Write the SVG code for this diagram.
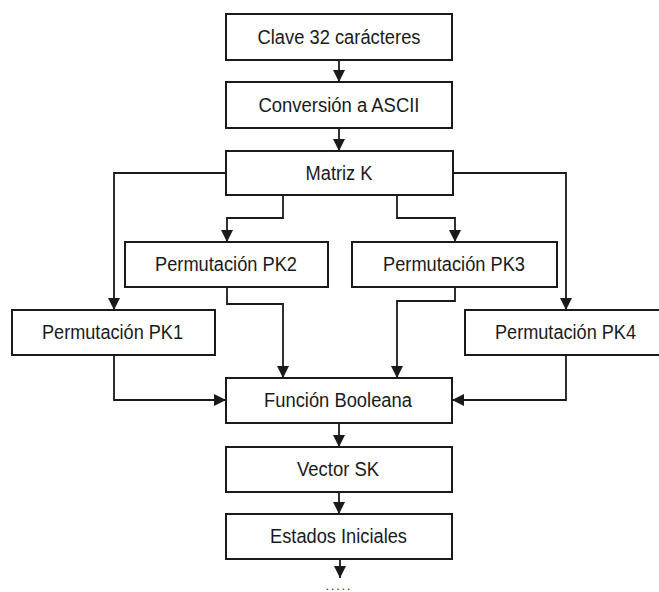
<svg xmlns="http://www.w3.org/2000/svg" width="659" height="592" viewBox="0 0 659 592">
<style>
.box{fill:#fff;stroke:#1a1a1a;stroke-width:2}
.lbl{font-family:"Liberation Sans",Arial,sans-serif;font-size:20px;fill:#1a1a1a;text-anchor:middle}
.con{fill:none;stroke:#1a1a1a;stroke-width:1.8;marker-end:url(#ah)}
</style>
<defs>
<marker id="ah" markerUnits="userSpaceOnUse" markerWidth="12" markerHeight="13" viewBox="0 0 12 13" refX="12" refY="6.5" orient="auto">
<path d="M0,0.5 L12,6.5 L0,12.5 Z" fill="#1a1a1a"/>
</marker>
</defs>
<rect width="659" height="592" fill="#fff"/>
<g id="connectors">
<path class="con" d="M339,60 V82"/>
<path class="con" d="M339,128 V151"/>
<path class="con" d="M226,173 H114 V310"/>
<path class="con" d="M453,173 H566 V310"/>
<path class="con" d="M283,195 V218 H227 V242"/>
<path class="con" d="M397,195 V218 H455 V242"/>
<path class="con" d="M227,287 V304 H283 V378"/>
<path class="con" d="M455,287 V301 H397 V378"/>
<path class="con" d="M114,355 V400 H226"/>
<path class="con" d="M566,355 V400 H452"/>
<path class="con" d="M339,423 V447"/>
<path class="con" d="M339,492 V514"/>
<path class="con" d="M340,559 V578"/>
</g>
<g id="n_clave"><rect class="box" x="226" y="14" width="226" height="46"/><text class="lbl" x="339" y="44" textLength="163" lengthAdjust="spacingAndGlyphs">Clave 32 carácteres</text></g>
<g id="n_conv"><rect class="box" x="226" y="82" width="226" height="46"/><text class="lbl" x="339" y="112" textLength="161" lengthAdjust="spacingAndGlyphs">Conversión a ASCII</text></g>
<g id="n_matriz"><rect class="box" x="226" y="151" width="227" height="44"/><text class="lbl" x="339" y="180" textLength="67" lengthAdjust="spacingAndGlyphs">Matriz K</text></g>
<g id="n_pk2"><rect class="box" x="125" y="242" width="203" height="45"/><text class="lbl" x="226" y="271" textLength="142" lengthAdjust="spacingAndGlyphs">Permutación PK2</text></g>
<g id="n_pk3"><rect class="box" x="352" y="242" width="205" height="45"/><text class="lbl" x="454" y="271" textLength="142" lengthAdjust="spacingAndGlyphs">Permutación PK3</text></g>
<g id="n_pk1"><rect class="box" x="12" y="310" width="203" height="45"/><text class="lbl" x="112.5" y="339" textLength="141" lengthAdjust="spacingAndGlyphs">Permutación PK1</text></g>
<g id="n_pk4"><rect class="box" x="465" y="310" width="205" height="45"/><text class="lbl" x="565.5" y="339" textLength="141" lengthAdjust="spacingAndGlyphs">Permutación PK4</text></g>
<g id="n_func"><rect class="box" x="226" y="378" width="226" height="45"/><text class="lbl" x="338" y="407" textLength="148" lengthAdjust="spacingAndGlyphs">Función Booleana</text></g>
<g id="n_vector"><rect class="box" x="226" y="447" width="226" height="45"/><text class="lbl" x="338" y="476" textLength="82" lengthAdjust="spacingAndGlyphs">Vector SK</text></g>
<g id="n_estados"><rect class="box" x="226" y="514" width="226" height="45"/><text class="lbl" x="338.5" y="543" textLength="137" lengthAdjust="spacingAndGlyphs">Estados Iniciales</text></g>
<text x="339" y="590" font-family="'Liberation Sans',Arial,sans-serif" font-size="12" fill="#1a1a1a" text-anchor="middle" letter-spacing="2">.....</text>
</svg>
